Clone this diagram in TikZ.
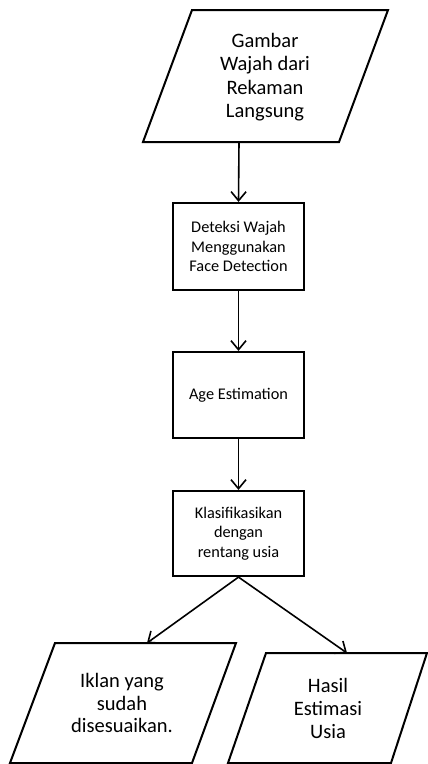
\documentclass[tikz,border=0pt]{standalone}
\usepackage{fontspec}
\setmainfont{Carlito}
\usetikzlibrary{arrows.meta}
\begin{document}
\begin{tikzpicture}[x=1pt,y=-1pt,
  ioshape/.style={draw, line width=2pt, line join=miter},
  procbox/.style={draw, line width=2.2pt, minimum width=131pt, align=center,
    font=\fontsize{16.3}{19.5}\selectfont, inner sep=0pt},
  iotext/.style={align=center, font=\fontsize{20.5}{23.5}\selectfont, inner sep=0pt},
  flow/.style={line width=1.6pt, -{Straight Barb[length=9pt,width=15pt]}}]
\useasboundingbox (0,0) rectangle (428,764);
% input parallelogram
\draw[ioshape] (192,10) -- (388,10) -- (339,142) -- (143,142) -- cycle;
\node[iotext] (in) at (265,77) {Gambar\\Wajah dari\\Rekaman\\Langsung};
\coordinate (inb) at (239,142);
% process boxes
\node[procbox, minimum height=87pt] (det) at (238.5,246.5) {Deteksi Wajah\\Menggunakan\\Face Detection};
\node[procbox, minimum height=86pt] (age) at (238.5,395) {Age Estimation};
\node[procbox, minimum height=85pt] (kls) at (238.5,533.5) {Klasifikasikan\\dengan\\rentang usia};
% output parallelograms
\draw[ioshape] (55,643) -- (236,643) -- (192,763) -- (10,763) -- cycle;
\node[iotext, font=\fontsize{20.5}{22.5}\selectfont] (ik) at (122,703) {Iklan yang\\sudah\\disesuaikan.};
\coordinate (ikt) at (147,643);
\draw[ioshape] (266,653) -- (427,653) -- (391,763) -- (228,763) -- cycle;
\node[iotext, font=\fontsize{20.5}{23}\selectfont] (hs) at (328,708) {Hasil\\Estimasi\\Usia};
\coordinate (hst) at (347,653);
% connectors
\draw[flow] (inb) -- (det.north);
\draw[flow] (det) -- (age);
\draw[flow] (age) -- (kls);
\draw[flow] (kls.south) -- (ikt);
\draw[flow] (kls.south) -- (hst);
\end{tikzpicture}
\end{document}
